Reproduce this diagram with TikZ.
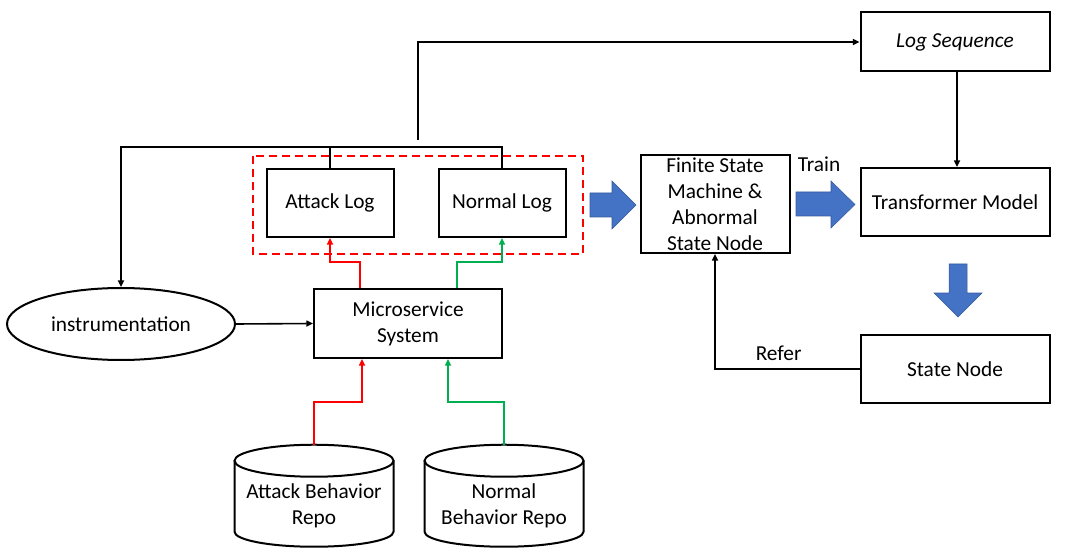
\documentclass[tikz,border=0pt]{standalone}
\usepackage{fontspec}
\setmainfont{Carlito}
\usetikzlibrary{shapes.geometric,arrows.meta}

\definecolor{arrowblue}{HTML}{4472C4}
\definecolor{okgreen}{HTML}{00B050}

\begin{document}
\begin{tikzpicture}[x=0.75pt, y=-0.75pt,
  every node/.style={font=\fontsize{16}{19.5}\selectfont},
  box/.style={draw, line width=1.5pt, align=center, inner sep=0pt},
  repo/.style={align=center, minimum width=119.25pt, minimum height=91.5pt, inner sep=0pt},
  cyl/.style={line width=1.5pt},
  conn/.style={line width=1.2pt, -{Triangle[length=5pt,width=4.5pt]}},
  redconn/.style={conn, red},
  greenconn/.style={conn, okgreen},
  bigarrow/.style={fill=arrowblue, draw=arrowblue!80!black, line width=0.4pt}]

\useasboundingbox (0,0) rectangle (1069,559);

%% right column
\node[box, minimum width=141.75pt, minimum height=44.25pt] (logseq) at (955,42) {\itshape Log Sequence};
\node[box, minimum width=141.75pt, minimum height=51pt] (transformer) at (955,202) {Transformer Model};
\node[box, minimum width=141.75pt, minimum height=51pt] (state) at (955,369) {State Node};
\node[box, minimum width=111.75pt, minimum height=73.5pt] (fsm) at (715,204) {Finite State\\Machine \&\\Abnormal\\State Node};

%% logs
\node[box, minimum width=95.25pt, minimum height=51pt] (attack) at (330,203) {Attack Log};
\node[box, minimum width=95.25pt, minimum height=51pt] (normal) at (502,203) {Normal Log};
\draw[red, line width=1.2pt, dash pattern=on 6pt off 3.75pt] (253,156) rectangle (583,254);

%% system
\node[box, minimum width=141pt, minimum height=51.75pt] (micro) at (408,323.5) {Microservice\\System};
\node[draw, line width=1.5pt, ellipse, minimum width=171pt, minimum height=54pt, inner sep=0pt] (instr) at (121,324) {instrumentation};

%% repos (cylinders)
\node[repo] (arepo) at (314,506) {Attack Behavior\\Repo};
\node[repo] (nrepo) at (504,506) {Normal\\Behavior Repo};
\foreach \r in {arepo,nrepo}{
  \draw[cyl] (\r.north) ++(0,16) ellipse [x radius=79.5, y radius=16];
  \draw[cyl] (\r.north) ++(-79.5,16) -- ++(0,71)
    arc [start angle=180, end angle=0, x radius=79.5, y radius=15] -- ++(0,-71);
}

%% connectors
\coordinate (tap) at (330,147);
\coordinate (split) at (418,140);
\draw[conn] (attack.north) |- (tap) -| (instr.north);
\draw[line width=1.2pt] (normal.north) |- (tap);
\draw[conn] (split) |- (logseq.west);
\draw[conn] ([xshift=1.5pt]logseq.south) -- ([xshift=1.5pt]transformer.north);
\draw[conn] (instr.east) -- (micro.west);
\draw[redconn] ([xshift=-36pt]micro.north) -- ++(0,-26) -| (attack.south);
\draw[greenconn] ([xshift=36.75pt]micro.north) -- ++(0,-26) -| (normal.south);
\draw[redconn] (arepo.north) -- ++(0,-43) -| ([xshift=-34.5pt]micro.south);
\draw[greenconn] (nrepo.north) -- ++(0,-43) -| ([xshift=30pt]micro.south);
\draw[conn] (state.west) -| (fsm.south) node[pos=0.28, above=2pt] {Refer};

%% block arrows
\draw[bigarrow] (590,193) -- (612,193) -- (612,181) -- (636,205) -- (612,229) -- (612,217) -- (590,217) -- cycle;
\draw[bigarrow] (796,192) -- (831,192) -- (831,181) -- (855,204.5) -- (831,228) -- (831,216) -- (796,216) -- cycle;
\draw[bigarrow] (949,264) -- (967,264) -- (967,293) -- (982,293) -- (958,317) -- (934,293) -- (949,293) -- cycle;
\node (train) at (819,164) {Train};

\end{tikzpicture}
\end{document}
